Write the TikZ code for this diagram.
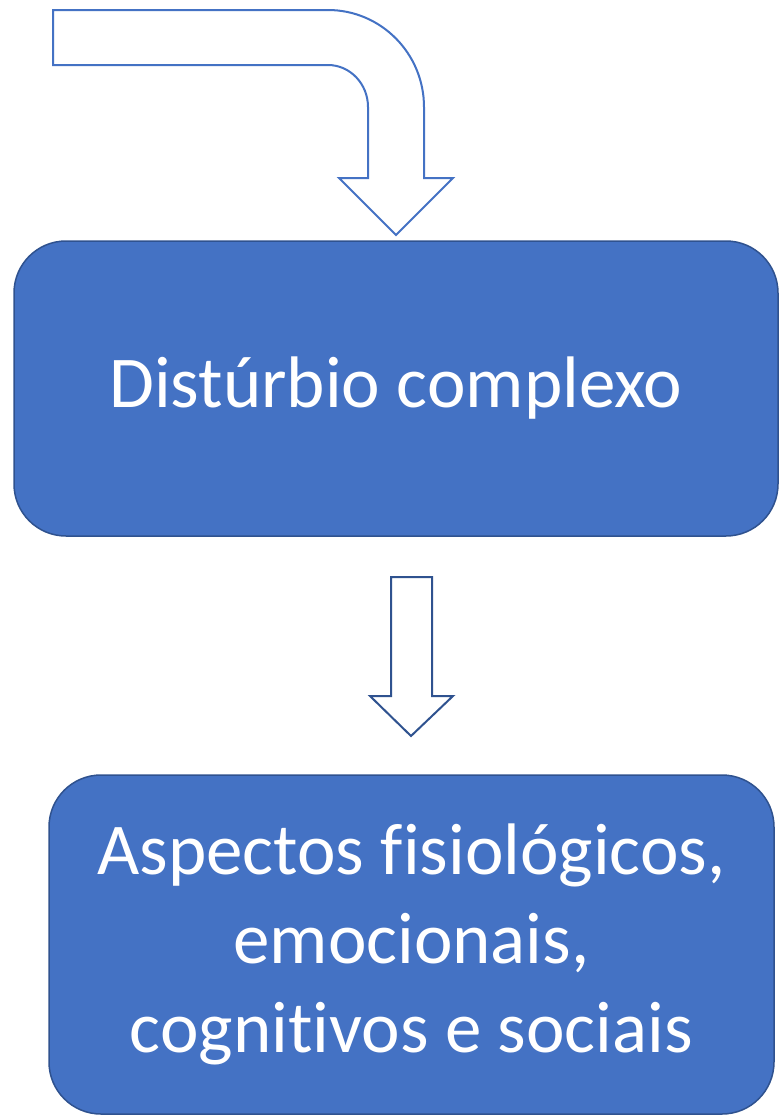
\documentclass[tikz,border=0pt]{standalone}
\usepackage{fontspec}
\setmainfont{Carlito}[Ligatures=NoCommon]
\usetikzlibrary{positioning}
\definecolor{boxblue}{HTML}{4472C4}
\definecolor{edgeblue}{HTML}{2F528F}
\begin{document}
\begin{tikzpicture}[x=1pt,y=-1pt,
  bigbox/.style={draw=edgeblue,line width=1.5pt,fill=boxblue,rounded corners=52pt,
    text=white,align=center,font=\fontsize{73}{89}\selectfont,inner sep=0pt},
  hollow/.style={fill=white,line width=2pt,line join=miter}]
\useasboundingbox (0,0) rectangle (781,1117);

\node[bigbox,minimum width=764pt,minimum height=295pt] (dist) at (396,388.5) {Distúrbio complexo};
\node[bigbox,minimum width=725pt,minimum height=339pt] (asp) at (411.5,944.5)
  {Aspectos fisiológicos,\\emocionais,\\cognitivos e sociais};

% bent arrow into the first box
\draw[hollow,draw=boxblue] (53,10) -- (328,10)
  .. controls (381,10) and (424,53.5) .. (424,107) -- (424,178) -- (453,178)
  -- (396,235) -- (339,178) -- (368,178) -- (368,107)
  .. controls (368,83.8) and (350,65) .. (328,65) -- (53,65) -- cycle;
% down arrow between the boxes
\draw[hollow,draw=edgeblue] (391,577) -- (432,577) -- (432,696) -- (453,696)
  -- (411,736) -- (370,696) -- (391,696) -- cycle;
\end{tikzpicture}
\end{document}
